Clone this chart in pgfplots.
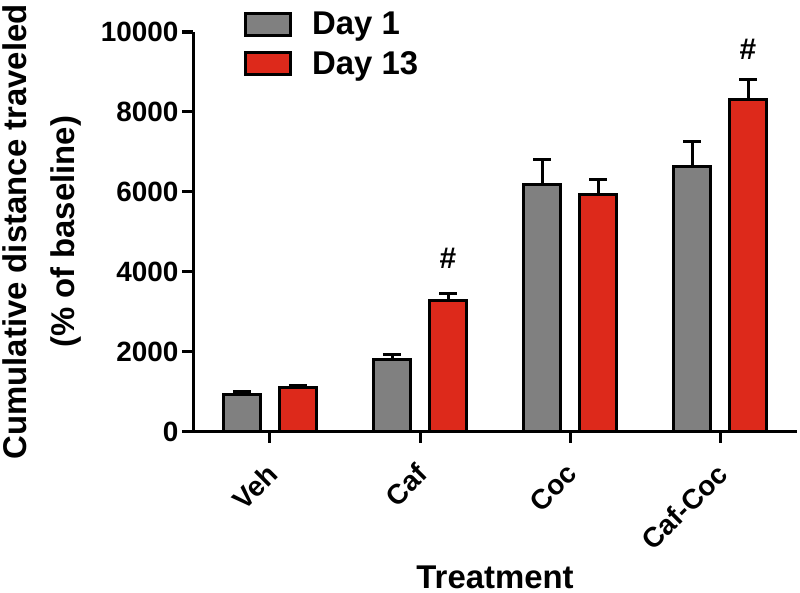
\documentclass[border=0pt]{standalone}
\usepackage{pgfplots}
\pgfplotsset{compat=1.18}
\usepackage{fontspec}
\setmainfont{Liberation Sans}
\definecolor{barGray}{RGB}{128,128,128}
\definecolor{barRed}{RGB}{221,41,27}
\pgfplotsset{boxlegend/.style={legend image code/.code={\draw[##1, line width=3bp] (0bp,-11bp) rectangle (45bp,11bp); \path (0bp,0bp) (63bp,0bp);}}}
\begin{document}
\begin{tikzpicture}
\begin{axis}[
  name=ax,
  x=150bp, y=0.04bp,
  xmin=-0.513, xmax=3.513,
  ymin=0, ymax=10000,
  axis x line*=bottom, axis y line*=left,
  axis line style={line width=3bp, -},
  every tick/.style={black, line width=3bp},
  tick align=outside,
  major tick length=11bp,
  xtick={0,1,2,3},
  xticklabels={Veh,Caf,Coc,Caf-Coc},
  ytick={0,2000,4000,6000,8000,10000},
  scaled y ticks=false,
  /pgf/number format/assume math mode=true,
  /pgf/number format/1000 sep={},
  tick label style={font=\bfseries\fontsize{28}{30}\selectfont},
  yticklabel style={xshift=0bp},
  xticklabel style={yshift=-16bp, xshift=-5bp, rotate=45, anchor=north east, inner sep=2bp},
  xlabel={Treatment},
  ylabel={Cumulative distance traveled\\(\% of baseline)},
  label style={font=\bfseries\fontsize{33}{48}\selectfont},
  ylabel style={align=center, inner sep=0pt},
  ylabel shift=16bp,
  xlabel shift=7bp,
  ybar,
  bar width=37bp,
  legend style={draw=none, fill=none, at={(rel axis cs:0,1)}, anchor=north west,
    xshift=48bp, yshift=24bp, font=\bfseries\fontsize{33}{36}\selectfont,
    row sep=11bp, legend cell align=left},
  error bars/y dir=plus,
  error bars/y explicit,
  error bars/error bar style={line width=3bp, black},
  error bars/error mark options={rotate=90, mark size=9bp, line width=3bp, black},
]
\addplot+[bar shift=-28bp, fill=barGray, draw=black, line width=3bp, boxlegend]
  coordinates {(0,925) +- (0,80) (1,1817) +- (0,115) (2,6190) +- (0,610) (3,6633) +- (0,625)};
\addlegendentry{Day 1}
\addplot+[bar shift=28bp, fill=barRed, draw=black, line width=3bp, boxlegend]
  coordinates {(0,1108) +- (0,60) (1,3275) +- (0,183) (2,5925) +- (0,375) (3,8300) +- (0,517)};
\addlegendentry{Day 13}
\node[font=\bfseries\fontsize{30}{34}\selectfont] at (axis cs:1,4350) [xshift=28bp] {\#};
\node[font=\bfseries\fontsize{30}{34}\selectfont] at (axis cs:3,9575) [xshift=28bp] {\#};
\end{axis}
\pgfresetboundingbox
\path ([xshift=-193bp, yshift=-161bp]ax.south west) rectangle ([xshift=3bp, yshift=32bp]ax.north east);
\end{tikzpicture}
\end{document}
